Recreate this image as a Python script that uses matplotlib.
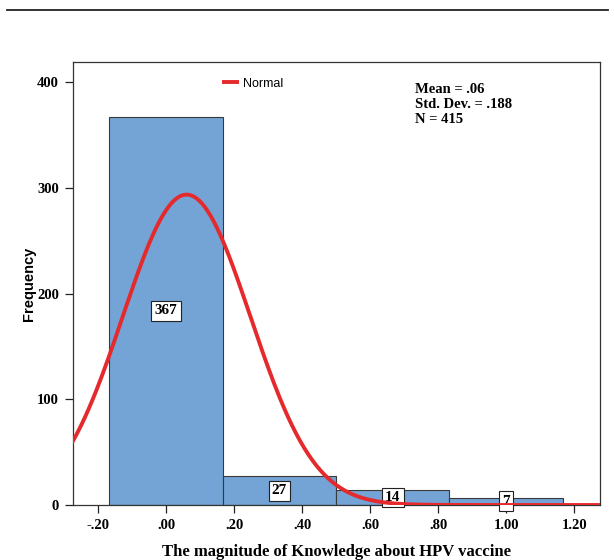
import numpy as np
import matplotlib
matplotlib.use('Agg')
import matplotlib.pyplot as plt
from matplotlib.lines import Line2D

# histogram data (bin edges)
bin_edges = [-1/6, 1/6, 1/2, 5/6, 7/6]
counts = [367, 27, 14, 7]
mean = 0.06
std = 0.188
n = 415
x_ticks = [-0.2, 0.0, 0.2, 0.4, 0.6, 0.8, 1.0, 1.2]
x_tick_labels = ['-.20', '.00', '.20', '.40', '.60', '.80', '1.00', '1.20']
y_ticks = [0, 100, 200, 300, 400]

serif = 'Liberation Serif'
sans = 'Liberation Sans'

fig = plt.figure(figsize=(6.14, 5.6), dpi=100)
ax = fig.add_axes([0.1189, 0.0982, 0.8583, 0.7911])

lefts = np.array(bin_edges[:-1])
widths = np.diff(bin_edges)
ax.bar(lefts, counts, width=widths, align='edge', color='#74A3D5',
       edgecolor='#3a3a3a', linewidth=0.8, zorder=2)

# normal curve scaled to counts
xs = np.linspace(-0.3, 1.3, 400)
bw = widths[0]
ys = n * bw / (std * np.sqrt(2 * np.pi)) * np.exp(-0.5 * ((xs - mean) / std) ** 2)
ax.plot(xs, ys, color='#E52A2E', linewidth=2.8, label='Normal', zorder=4,
        solid_capstyle='butt')

# count labels at half height
for l, w, c in zip(lefts, widths, counts):
    ax.text(l + w / 2, c / 2, str(c), ha='center', va='center', fontsize=11,
            fontweight='bold', family=serif, zorder=3,
            bbox=dict(boxstyle='square,pad=0.22', fc='white', ec='#222222', lw=0.8))

ax.set_xlim(-0.274, 1.276)
ax.set_ylim(0, 419)
ax.set_xticks(x_ticks)
ax.set_xticklabels(x_tick_labels)
ax.set_yticks(y_ticks)
for lab in ax.get_xticklabels() + ax.get_yticklabels():
    lab.set_fontfamily(serif)
    lab.set_fontweight('bold')
    lab.set_fontsize(10.5)
ax.tick_params(direction='out', length=6, width=0.9, color='#222222', pad=4)

for s in ax.spines.values():
    s.set_color('#333333')
    s.set_linewidth(0.9)

ax.set_ylabel('Frequency', family=sans, fontweight='bold', fontsize=10.5, labelpad=1)
ax.set_xlabel('The magnitude of Knowledge about HPV vaccine', family=serif,
              fontweight='bold', fontsize=12, labelpad=9)

ax.legend(loc='upper left', bbox_to_anchor=(0.262, 0.99), frameon=False,
          handlelength=1.3, handletextpad=0.35, prop={'family': sans, 'size': 9})

ax.text(0.649, 0.952, 'Mean = .06\nStd. Dev. = .188\nN = 415', transform=ax.transAxes,
        ha='left', va='top', family=serif, fontweight='bold', fontsize=10.5,
        linespacing=1.2)

# horizontal rule at top of the figure
fig.add_artist(Line2D([0.011, 0.99], [0.982, 0.982], color='#222222', linewidth=1.3))

fig.savefig('out.png', dpi=100)
